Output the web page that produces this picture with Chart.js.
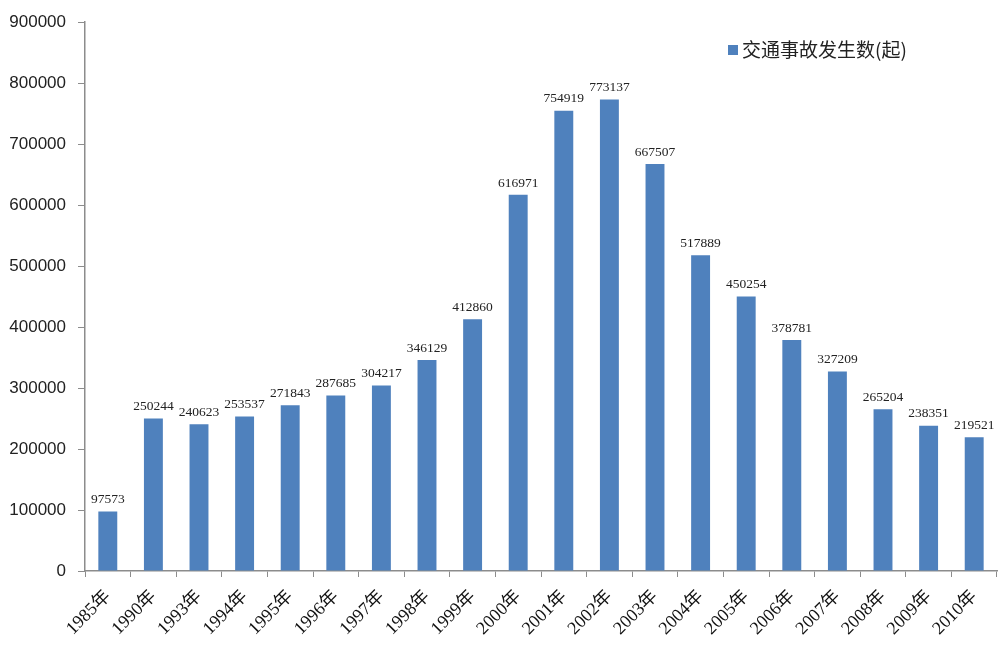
<!DOCTYPE html>
<html>
<head>
<meta charset="utf-8">
<title>交通事故发生数</title>
<script src="https://cdn.jsdelivr.net/npm/chart.js@4/dist/chart.umd.min.js"></script>
<style>
  body { margin: 0; background: #fff; }
  #wrap { width: 1008px; height: 645px; }
</style>
</head>
<body>
<div id="wrap"><canvas id="accChart" width="1008" height="645"></canvas></div>
<script>
// 年份与交通事故发生数(起)
const years = ["1985年", "1990年", "1993年", "1994年", "1995年", "1996年", "1997年",
  "1998年", "1999年", "2000年", "2001年", "2002年", "2003年", "2004年", "2005年",
  "2006年", "2007年", "2008年", "2009年", "2010年"];
const accidents = [97573, 250244, 240623, 253537, 271843, 287685, 304217, 346129,
  412860, 616971, 754919, 773137, 667507, 517889, 450254, 378781, 327209, 265204,
  238351, 219521];
const yTicks = [0, 100000, 200000, 300000, 400000, 500000, 600000, 700000, 800000, 900000];
const seriesName = "交通事故发生数(起)";

const barColor = "#4F81BD";
const axisColor = "#8c8c8c";

// valeurs au-dessus des barres
const valueLabels = {
  id: "valueLabels",
  afterDatasetsDraw(chart) {
    const ctx = chart.ctx;
    const meta = chart.getDatasetMeta(0);
    ctx.save();
    ctx.font = "13.5px 'Liberation Serif', serif";
    ctx.fillStyle = "#222";
    ctx.textAlign = "center";
    ctx.textBaseline = "bottom";
    meta.data.forEach((bar, i) => {
      ctx.fillText(String(accidents[i]), bar.x, bar.y - 5);
    });
    ctx.restore();
  }
};

// légende dessinée dans la zone du graphe
const cornerLegend = {
  id: "cornerLegend",
  afterDraw(chart) {
    const ctx = chart.ctx;
    const x = 728, y = 50;
    ctx.save();
    ctx.fillStyle = barColor;
    ctx.fillRect(x, y - 5, 10, 10);
    ctx.fillStyle = "#222";
    ctx.font = "19px 'Noto Sans CJK SC', sans-serif";
    ctx.textBaseline = "middle";
    ctx.fillText(seriesName, x + 14, y);
    ctx.restore();
  }
};

new Chart(document.getElementById("accChart"), {
  type: "bar",
  data: {
    labels: years,
    datasets: [{
      label: seriesName,
      data: accidents,
      backgroundColor: barColor,
      barPercentage: 0.83,
      categoryPercentage: 0.5
    }]
  },
  options: {
    responsive: false,
    animation: false,
    layout: { padding: { top: 16, right: 11, left: 0, bottom: 0 } },
    plugins: {
      legend: { display: false },
      tooltip: { enabled: false }
    },
    scales: {
      x: {
        afterFit: s => { s.height = 74; },
        grid: { drawOnChartArea: false, color: axisColor, tickLength: 6, offset: true },
        border: { color: axisColor, width: 1.5 },
        ticks: {
          minRotation: 45, maxRotation: 45, autoSkip: false, padding: 9,
          color: "#111",
          font: { family: "'Liberation Serif', 'Noto Sans CJK SC', serif", size: 18 }
        }
      },
      y: {
        min: 0, max: 900000,
        afterFit: s => { s.width = 85; },
        afterBuildTicks: s => { s.ticks = yTicks.map(v => ({ value: v })); },
        grid: { drawOnChartArea: false, color: axisColor, tickLength: 7 },
        border: { color: axisColor, width: 1.5 },
        ticks: {
          color: "#222", padding: 12,
          font: { family: "'Liberation Sans', sans-serif", size: 17 },
          callback: v => String(v)
        }
      }
    }
  },
  plugins: [valueLabels, cornerLegend]
});
</script>
</body>
</html>
